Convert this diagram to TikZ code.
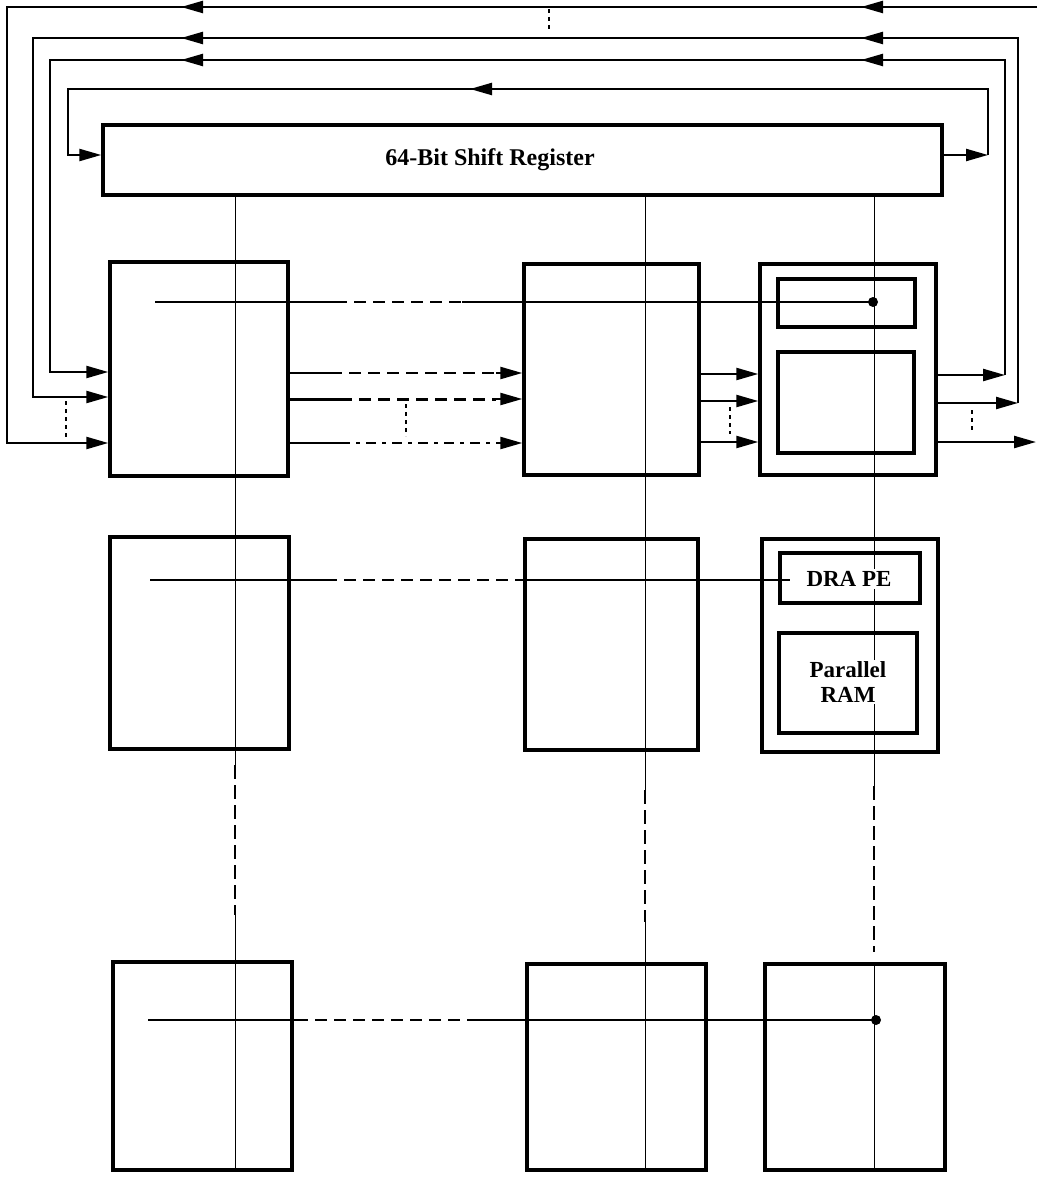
\documentclass[tikz,border=0pt]{standalone}
\usepackage{fontspec}
\setmainfont{Liberation Serif}
\usetikzlibrary{arrows.meta}
\begin{document}
\begin{tikzpicture}[x=1pt,y=-1pt,
  box/.style={draw,line width=3.4pt,rectangle,inner sep=0pt},
  wire/.style={line width=2.3pt},
  thinline/.style={line width=1pt},
  tip/.style={-{Triangle[length=22pt,width=12pt]}},
  dsh/.style={dash pattern=on 12pt off 7pt},
  vdsh/.style={line width=1.6pt,dash pattern=on 14pt off 6pt},
  dotv/.style={line width=2pt,dash pattern=on 4pt off 4pt},
  lbl/.style={font=\bfseries\fontsize{23}{25}\selectfont,fill=white,inner sep=2pt,align=center},
  jdot/.style={circle,fill,inner sep=0pt,minimum size=10pt}]
\useasboundingbox (0,0) rectangle (1037,1177);

% ---------- boxes
\node[box,minimum width=839pt,minimum height=70pt] (SR) at (522.5,160) {};
\node[box,minimum width=178pt,minimum height=214pt] (A1) at (199,369) {};
\node[box,minimum width=175pt,minimum height=211pt] (B1) at (611.5,369.5) {};
\node[box,minimum width=176pt,minimum height=211pt] (C1) at (848,369.5) {};
\node[box,minimum width=137pt,minimum height=48pt] (C1t) at (846.5,303) {};
\node[box,minimum width=136pt,minimum height=101pt] (C1b) at (846,402.5) {};
\node[box,minimum width=179pt,minimum height=212pt] (A2) at (199.5,643) {};
\node[box,minimum width=173pt,minimum height=211pt] (B2) at (611.5,644.5) {};
\node[box,minimum width=176pt,minimum height=213pt] (C2) at (850,645.5) {};
\node[box,minimum width=140pt,minimum height=50pt] (C2t) at (850,578) {};
\node[box,minimum width=138pt,minimum height=100pt] (C2b) at (848,683) {};
\node[box,minimum width=179pt,minimum height=208pt] (A3) at (202.5,1066) {};
\node[box,minimum width=179pt,minimum height=206pt] (B3) at (616.5,1067) {};
\node[box,minimum width=180pt,minimum height=206pt] (C3) at (855,1067) {};

% ---------- junction dots
\node[jdot] (d1) at (873,302) {};
\node[jdot] (d3) at (876,1020) {};

% ---------- vertical bus lines from the shift register
\coordinate (va) at (235,0);
\coordinate (vb) at (645,0);
\coordinate (vc) at (874,0);
\coordinate (ya1) at (0,765);  \coordinate (ya2) at (0,915);
\coordinate (yb1) at (0,790);  \coordinate (yb2) at (0,922);
\coordinate (yc1) at (0,786);  \coordinate (yc2) at (0,952);
\draw[thinline] (va |- SR.south) -- (va |- ya1);
\draw[vdsh] (va |- ya1) -- (va |- ya2);
\draw[thinline] (va |- ya2) -- (va |- A3.south);
\draw[thinline] (vb |- SR.south) -- (vb |- yb1);
\draw[vdsh] (vb |- yb1) -- (vb |- yb2);
\draw[thinline] (vb |- yb2) -- (vb |- B3.south);
\draw[thinline] (vc |- SR.south) -- (vc |- yc1);
\draw[vdsh] (vc |- yc1) -- (vc |- yc2);
\draw[thinline] (vc |- C3.north) -- (vc |- C3.south);

% ---------- horizontal row lines
\coordinate (r1s) at (155,302); \coordinate (r1a) at (335,302); \coordinate (r1b) at (462,302);
\draw[wire] (r1s) -- (r1a);
\draw[wire,dsh] (r1a) -- (r1b);
\draw[wire] (r1b) -- (d1.center);
\coordinate (r2s) at (150,580); \coordinate (r2a) at (325,580); \coordinate (r2b) at (520,580);
\coordinate (r2e) at (790,580);
\draw[line width=1.8pt] (r2s) -- (r2a);
\draw[line width=1.8pt,dsh] (r2a) -- (r2b);
\draw[line width=1.4pt] (r2b) -- (r2e);
\coordinate (r3s) at (148,1020); \coordinate (r3a) at (296,1020); \coordinate (r3b) at (477,1020);
\draw[wire] (r3s) -- (r3a);
\draw[wire,dsh] (r3a) -- (r3b);
\draw[wire] (r3b) -- (d3.center);

% ---------- feedback loops
\coordinate (r1) at (1037,7);   \coordinate (a1) at (7,7);   \coordinate (b1) at (7,443);
\coordinate (r2) at (1018,403); \coordinate (t2) at (1018,38); \coordinate (a2) at (33,38); \coordinate (b2) at (33,397);
\coordinate (r3) at (1005,375); \coordinate (t3) at (1005,60); \coordinate (a3) at (50,60); \coordinate (b3) at (50,372);
\coordinate (r4) at (988,155);  \coordinate (t4) at (988,89);  \coordinate (a4) at (68,89);  \coordinate (b4) at (68,155);
\coordinate (o3) at (1036,442);

\draw[wire,tip] (r1) -- (a1) -- (b1) -- (A1.west |- b1);
\draw[wire,tip] (C1.east |- r2) -- (r2);
\draw[wire,tip] (r2) -- (t2) -- (a2) -- (b2) -- (A1.west |- b2);
\draw[wire,tip] (C1.east |- r3) -- (r3);
\draw[wire,tip] (r3) -- (t3) -- (a3) -- (b3) -- (A1.west |- b3);
\draw[wire,tip] (SR.east |- r4) -- (r4);
\draw[wire,tip] (r4) -- (t4) -- (a4) -- (b4) -- (SR.west |- b4);
\draw[wire,tip] (C1.east |- o3) -- (o3);

% arrowheads along the top return lines
\foreach \yy in {7,38,60} {
  \draw[wire,tip] (886,\yy) -- (861,\yy);
  \draw[wire,tip] (206,\yy) -- (181,\yy);
}
\draw[wire,tip] (496,89) -- (470,89);

% ---------- A1 -> B1 (dashed) and B1 -> C1
\coordinate (ha) at (0,373); \coordinate (hb) at (0,399); \coordinate (hc) at (0,443);
\coordinate (xa) at (330,0); \coordinate (xb) at (340,0); \coordinate (xe) at (496,0);
\draw[wire] (A1.east |- ha) -- (xa |- ha);
\draw[wire,dsh] (xa |- ha) -- (xe |- ha);
\draw[wire,tip] (xe |- ha) -- (B1.west |- ha);
\draw[line width=3pt] (A1.east |- hb) -- (xb |- hb);
\draw[line width=3pt,dsh] (xb |- hb) -- (xe |- hb);
\draw[wire,tip] (xe |- hb) -- (B1.west |- hb);
\draw[wire] (A1.east |- hc) -- (xb |- hc);
\draw[wire,dash pattern=on 10pt off 6pt on 4pt off 6pt] (xb |- hc) -- (xe |- hc);
\draw[wire,tip] (xe |- hc) -- (B1.west |- hc);

\coordinate (hd) at (0,374); \coordinate (he) at (0,401); \coordinate (hf) at (0,442);
\draw[wire,tip] (B1.east |- hd) -- (C1.west |- hd);
\draw[wire,tip] (B1.east |- he) -- (C1.west |- he);
\draw[wire,tip] (B1.east |- hf) -- (C1.west |- hf);

% ---------- dotted "and so on" marks
\draw[dotv] (66,401) -- (66,440);
\draw[dotv] (406,404) -- (406,436);
\draw[dotv] (730,407) -- (730,434);
\draw[dotv] (972,410) -- (972,431);
\draw[dotv,line width=1.4pt] (549,9) -- (549,31);

% ---------- labels
\node[lbl,fill=none,font=\bfseries\fontsize{24}{26}\selectfont] (srlabel) at (490,160) {64-Bit Shift Register};
\node[lbl] (dra) at (849,579) {DRA PE};
\node[lbl] (ram) at (848,682) {Parallel\\RAM};
\end{tikzpicture}
\end{document}
